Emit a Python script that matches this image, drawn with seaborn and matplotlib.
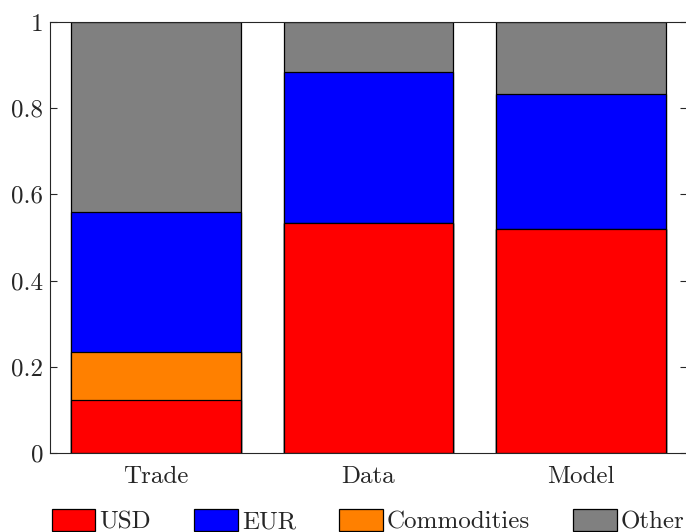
import numpy as np
import pandas as pd
import matplotlib
matplotlib.use("Agg")
import matplotlib.pyplot as plt
from matplotlib.patches import Patch
from matplotlib.ticker import FuncFormatter
import seaborn as sns

# ── data ────────────────────────────────────────────────────────────────────
categories = ["Trade", "Data", "Model"]
usd = [0.123, 0.534, 0.520]
commodities = [0.112, 0.0, 0.0]
eur = [0.324, 0.349, 0.312]
other = [0.441, 0.117, 0.168]

# stacking order, bottom to top
layers = [
    ("USD", usd, "#ff0000"),
    ("Commodities", commodities, "#ff8000"),
    ("EUR", eur, "#0000ff"),
    ("Other", other, "#808080"),
]
legend_order = ["USD", "EUR", "Commodities", "Other"]

sns.set_theme(style="white")
plt.rcParams["font.family"] = ["cmr10", "DejaVu Serif"]
plt.rcParams["axes.formatter.use_mathtext"] = True
plt.rcParams["mathtext.fontset"] = "cm"

fig = plt.figure(figsize=(6.86, 5.32), dpi=100)
ax = fig.add_axes([50 / 686, 79 / 532, 637 / 686, 431 / 532])

df = pd.DataFrame({"category": categories})
cum = np.zeros(len(categories))
for name, vals, col in layers:
    cum = cum + np.array(vals)
    df[name] = cum

# draw cumulative totals from the top down so each layer covers the next
for name, vals, col in reversed(layers):
    sns.barplot(data=df, x="category", y=name, color=col, saturation=1,
                errorbar=None, width=0.8, edgecolor="black", linewidth=0.9,
                ax=ax)

ax.set_xlim(-0.5, 2.5)
ax.set_ylim(0, 1)
ax.set_yticks([0, 0.2, 0.4, 0.6, 0.8, 1])
ax.yaxis.set_major_formatter(FuncFormatter(lambda v, p: "%g" % v))
ax.set_xlabel("")
ax.set_ylabel("")

spine_col = "#262626"
for s in ax.spines.values():
    s.set_visible(True)
    s.set_color(spine_col)
    s.set_linewidth(0.8)
ax.tick_params(axis="both", which="major", direction="in", length=5,
               width=0.8, color=spine_col, labelsize=18, labelcolor=spine_col,
               top=True, right=True, bottom=True, left=True)
ax.tick_params(axis="x", pad=9)
ax.tick_params(axis="y", pad=5)

colors = {name: col for name, vals, col in layers}
handles = [Patch(facecolor=colors[n], edgecolor="black", linewidth=0.9, label=n)
           for n in legend_order]
fig.legend(handles=handles, loc="upper center", ncol=4, frameon=False,
           bbox_to_anchor=(368 / 686, 36 / 532), fontsize=18,
           handlelength=1.75, handleheight=1.0, handletextpad=0.16,
           columnspacing=1.72, borderpad=0.0, labelcolor=spine_col)

fig.savefig("out.png", dpi=100)
